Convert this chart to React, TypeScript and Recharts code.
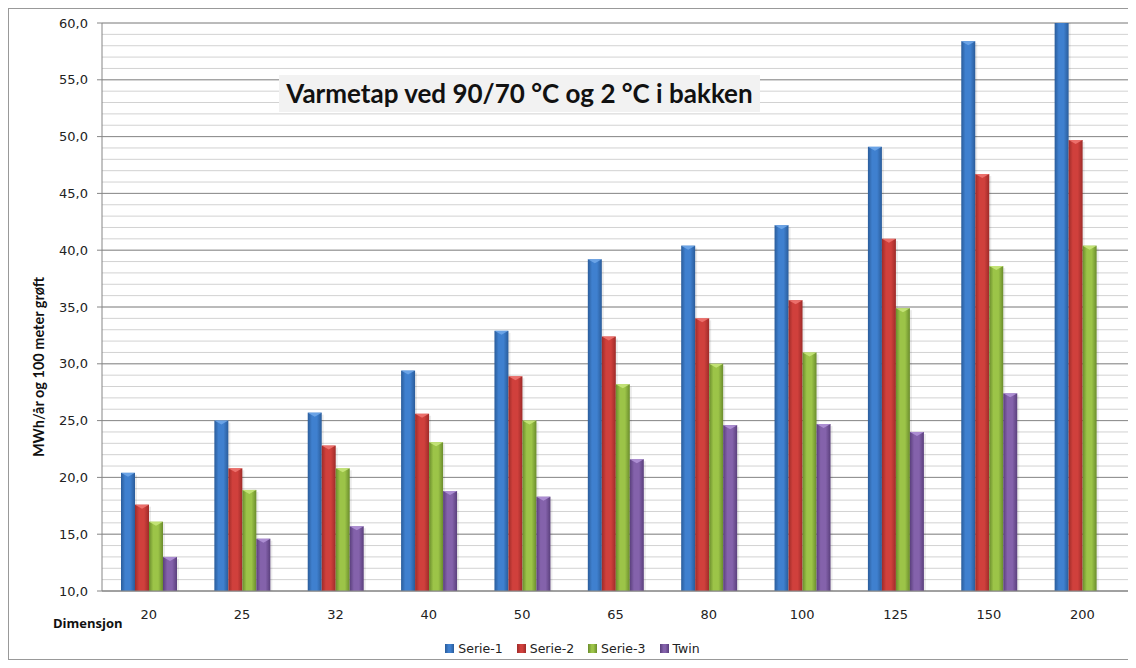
import React from 'react'
import {
  BarChart, Bar, XAxis, YAxis, CartesianGrid,
} from 'recharts'

// ─── Data ─────────────────────────────────────────────────────────────────────

const categories = ['20', '25', '32', '40', '50', '65', '80', '100', '125', '150', '200']

const serie1 = [20.4, 25.0, 25.7, 29.4, 32.9, 39.2, 40.4, 42.2, 49.1, 58.4, 61.0]
const serie2 = [17.6, 20.8, 22.8, 25.6, 28.9, 32.4, 34.0, 35.6, 41.0, 46.7, 49.7]
const serie3 = [16.1, 18.9, 20.8, 23.1, 25.0, 28.2, 30.0, 31.0, 34.9, 38.6, 40.4]
const twin: (number | null)[] = [13.0, 14.6, 15.7, 18.8, 18.3, 21.6, 24.6, 24.7, 24.0, 27.4, null]

const majorTicks = [10, 15, 20, 25, 30, 35, 40, 45, 50, 55, 60]
const minorTicks = Array.from({ length: 51 }, (_, i) => 10 + i)

const SERIES = [
  { key: 's1', name: 'Serie-1', edge: '#2a5c9a', mid: '#3f80cf', light: '#6fa6e8' },
  { key: 's2', name: 'Serie-2', edge: '#9e2b29', mid: '#d0403c', light: '#ee7470' },
  { key: 's3', name: 'Serie-3', edge: '#6a8c2c', mid: '#9cc448', light: '#c6e67a' },
  { key: 'tw', name: 'Twin',    edge: '#5a3f7c', mid: '#8462ab', light: '#b092d6' },
]

const fmt = (v: number) => v.toFixed(1).replace('.', ',')

// ─── Bar shape with Excel-ish bevel ───────────────────────────────────────────

function BevelBar(props: any) {
  const { x, y, width, height, fill, lightColor } = props
  if (height == null || height <= 0 || width <= 0) return null
  const cap = Math.min(4, height)
  return (
    <g>
      <rect x={x} y={y} width={width} height={height} fill={fill} />
      <polygon
        points={`${x},${y} ${x + width},${y} ${x + width / 2},${y + cap}`}
        fill={lightColor}
        opacity={0.9}
      />
      <rect x={x + width} y={y + 2} width={2} height={height - 2} fill="rgba(0,0,0,0.08)" />
    </g>
  )
}

// ─── App ──────────────────────────────────────────────────────────────────────

export default function App() {
  const data = categories.map((c, i) => ({
    cat: c,
    s1: serie1[i],
    s2: serie2[i],
    s3: serie3[i],
    tw: twin[i],
  }))

  const tickStyle = { fontSize: 13, fill: '#222', fontFamily: 'DejaVu Sans' }

  return (
    <>
      <style>{`body{margin:8px;overflow:hidden}`}</style>
      <div style={{
        position: 'relative',
        width: 1128,
        height: 650,
        borderTop: '1px solid #999',
        borderLeft: '1px solid #999',
        borderBottom: '1px solid #999',
        background: '#fff',
        fontFamily: 'DejaVu Sans',
      }}>
        <BarChart
          width={1127}
          height={650}
          data={data}
          margin={{ top: 14, right: 7, left: 0, bottom: 0 }}
          barCategoryGap="20%"
          barGap={0}
          barSize={14}
        >
          <defs>
            {SERIES.map((s) => (
              <linearGradient key={s.key} id={`g-${s.key}`} x1="0" y1="0" x2="1" y2="0">
                <stop offset="0%" stopColor={s.edge} />
                <stop offset="30%" stopColor={s.mid} />
                <stop offset="65%" stopColor={s.mid} />
                <stop offset="100%" stopColor={s.edge} />
              </linearGradient>
            ))}
          </defs>

          <YAxis
            yAxisId="minor"
            hide
            domain={[10, 60]}
            ticks={minorTicks}
            interval={0}
            allowDataOverflow
          />
          <CartesianGrid yAxisId="minor" vertical={false} stroke="#d2d2d2" strokeWidth={1} />
          <CartesianGrid vertical={false} stroke="#8c8c8c" strokeWidth={1} />

          <XAxis
            dataKey="cat"
            tick={tickStyle}
            axisLine={{ stroke: '#868686' }}
            tickLine={false}
            tickSize={0}
            tickMargin={19}
            height={68}
            interval={0}
          />
          <YAxis
            domain={[10, 60]}
            ticks={majorTicks}
            interval={0}
            allowDataOverflow
            tickFormatter={fmt}
            tick={tickStyle}
            axisLine={{ stroke: '#868686' }}
            tickLine={{ stroke: '#868686' }}
            tickSize={5}
            tickMargin={9}
            width={93}
          />

          {SERIES.map((s) => (
            <Bar
              key={s.key}
              dataKey={s.key}
              name={s.name}
              fill={`url(#g-${s.key})`}
              isAnimationActive={false}
              shape={(p: any) => <BevelBar {...p} lightColor={s.light} />}
            />
          ))}
        </BarChart>

        {/* title */}
        <div style={{
          position: 'absolute',
          left: 270,
          top: 66,
          width: 481,
          height: 37,
          lineHeight: '37px',
          background: '#f2f2f2',
          textAlign: 'center',
          fontFamily: 'Lato',
          fontWeight: 700,
          fontSize: 26,
          color: '#111',
          whiteSpace: 'nowrap',
        }}>
          Varmetap ved 90/70 °C og 2 °C i bakken
        </div>

        {/* y axis title */}
        <div style={{
          position: 'absolute',
          left: 30 - 130,
          top: 358 - 9,
          width: 260,
          height: 18,
          lineHeight: '18px',
          textAlign: 'center',
          transform: 'rotate(-90deg)',
          fontFamily: 'Lato',
          fontWeight: 700,
          fontSize: 14.5,
          color: '#111',
          whiteSpace: 'nowrap',
        }}>
          MWh/år og 100 meter grøft
        </div>

        {/* x axis title */}
        <div style={{
          position: 'absolute',
          left: 44,
          top: 605,
          fontFamily: 'Open Sans',
          fontWeight: 700,
          fontSize: 13,
          color: '#111',
          whiteSpace: 'nowrap',
        }}>
          Dimensjon
        </div>

        {/* legend */}
        <div style={{
          position: 'absolute',
          left: 0,
          top: 632,
          width: 1127,
          display: 'flex',
          justifyContent: 'center',
          gap: 14,
          fontFamily: 'DejaVu Sans',
          fontSize: 12.5,
          color: '#222',
        }}>
          {SERIES.map((s) => (
            <div key={s.key} style={{ display: 'flex', alignItems: 'center', gap: 4 }}>
              <span style={{
                width: 9,
                height: 9,
                display: 'inline-block',
                background: `linear-gradient(to right, ${s.edge}, ${s.mid} 40%, ${s.mid} 60%, ${s.edge})`,
              }} />
              <span>{s.name}</span>
            </div>
          ))}
        </div>
      </div>
    </>
  )
}
